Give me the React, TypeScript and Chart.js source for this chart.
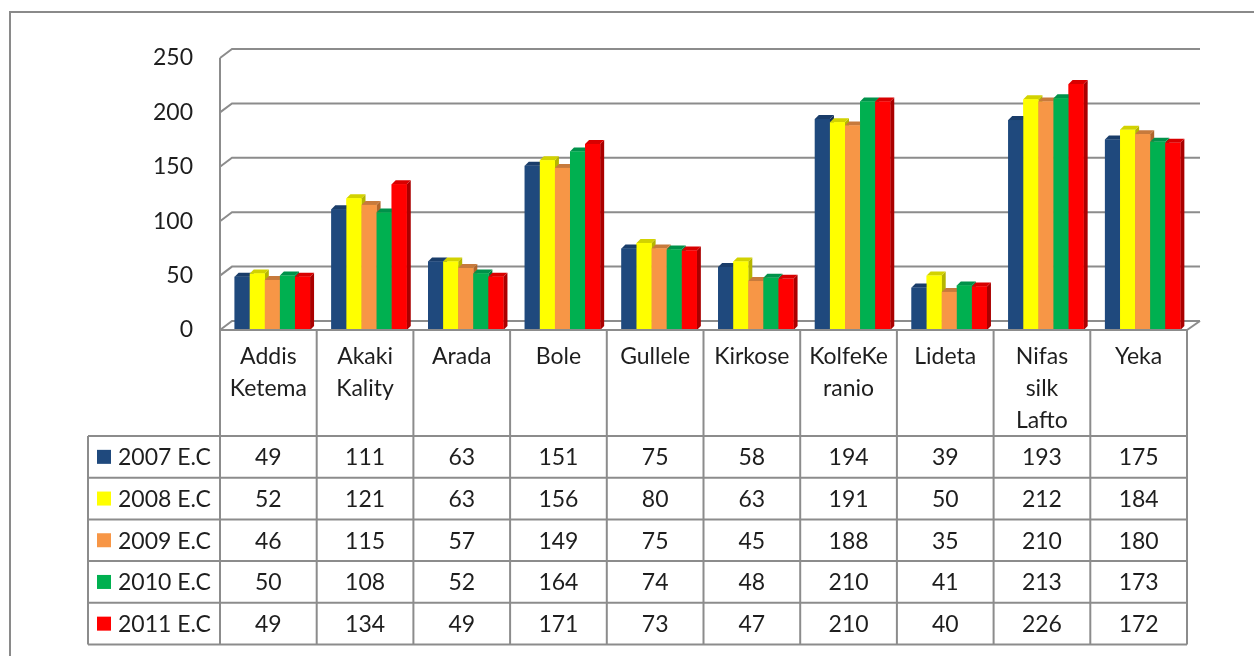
import React, { useEffect, useRef } from "react";
import { Chart, registerables } from "chart.js";

Chart.register(...registerables);

// ---- data ----
const categories: string[][] = [
  ["Addis", "Ketema"],
  ["Akaki", "Kality"],
  ["Arada"],
  ["Bole"],
  ["Gullele"],
  ["Kirkose"],
  ["KolfeKe", "ranio"],
  ["Lideta"],
  ["Nifas", "silk", "Lafto"],
  ["Yeka"],
];
const seriesNames = ["2007 E.C", "2008 E.C", "2009 E.C", "2010 E.C", "2011 E.C"];
const v2007 = [49, 111, 63, 151, 75, 58, 194, 39, 193, 175];
const v2008 = [52, 121, 63, 156, 80, 63, 191, 50, 212, 184];
const v2009 = [46, 115, 57, 149, 75, 45, 188, 35, 210, 180];
const v2010 = [50, 108, 52, 164, 74, 48, 210, 41, 213, 173];
const v2011 = [49, 134, 49, 171, 73, 47, 210, 40, 226, 172];
const yTicks = [0, 50, 100, 150, 200, 250];

// ---- styles ----
const frontColors = ["#1F497D", "#FFFF00", "#F79646", "#00B050", "#FF0000"];
const topColors = ["#1A3D6A", "#D2D200", "#C77A3C", "#00924A", "#D80000"];
const sideColors = ["#142E52", "#B5B500", "#B0652B", "#007A3A", "#AA0000"];
const LINE = "#8C8C8C";
const TEXT = "#1E1E1E";
const FONT = "Lato";
const FONT_SIZE = 23;

const W = 1254;
const H = 656;

const allSeries = [v2007, v2008, v2009, v2010, v2011];

// geometry for 3D look / table
const WALL_DX = 12;
const WALL_DY = 9;
const BAR_D = 4;
const BAR_SHIFT = 4;
const HEADER_H = 106;
const ROW_H = 41.7;
const LEGEND_LEFT = 88;

const wallPlugin = {
  id: "wall3d",
  beforeDatasetsDraw(chart: any) {
    const { ctx, chartArea, scales } = chart;
    const { left, right } = chartArea;
    const y = scales.y;
    ctx.save();
    ctx.strokeStyle = LINE;
    ctx.lineWidth = 2;
    for (const v of yTicks) {
      const yf = y.getPixelForValue(v);
      ctx.beginPath();
      ctx.moveTo(left, yf);
      ctx.lineTo(left + WALL_DX, yf - WALL_DY);
      ctx.lineTo(right + WALL_DX + 1, yf - WALL_DY);
      ctx.stroke();
    }
    const y0 = y.getPixelForValue(0);
    ctx.beginPath();
    ctx.moveTo(right, y0);
    ctx.lineTo(right + WALL_DX + 1, y0 - WALL_DY);
    ctx.stroke();
    ctx.restore();
  },
};

const bars3dPlugin = {
  id: "bars3d",
  beforeDatasetsDraw(chart: any) {
    chart.ctx.save();
    chart.ctx.translate(BAR_SHIFT, 0);
  },
  afterDatasetsDraw(chart: any) {
    const { ctx } = chart;
    const n = categories.length;
    for (let i = 0; i < n; i++) {
      for (let j = 0; j < allSeries.length; j++) {
        const el = chart.getDatasetMeta(j).data[i];
        if (!el) continue;
        const p = el.getProps(["x", "y", "base", "width"], true);
        const xl = p.x - p.width / 2;
        const xr = p.x + p.width / 2;
        const yt = p.y;
        const yb = p.base;
        // side
        ctx.fillStyle = sideColors[j];
        ctx.beginPath();
        ctx.moveTo(xr, yt);
        ctx.lineTo(xr + BAR_D, yt - BAR_D);
        ctx.lineTo(xr + BAR_D, yb - BAR_D);
        ctx.lineTo(xr, yb);
        ctx.closePath();
        ctx.fill();
        // top
        ctx.fillStyle = topColors[j];
        ctx.beginPath();
        ctx.moveTo(xl, yt);
        ctx.lineTo(xl + BAR_D, yt - BAR_D);
        ctx.lineTo(xr + BAR_D, yt - BAR_D);
        ctx.lineTo(xr, yt);
        ctx.closePath();
        ctx.fill();
        // front
        ctx.fillStyle = frontColors[j];
        ctx.fillRect(xl, yt, xr - xl, yb - yt);
      }
    }
    ctx.restore();
  },
};

const tablePlugin = {
  id: "dataTable",
  afterDraw(chart: any) {
    const { ctx, chartArea, scales } = chart;
    const { left, right } = chartArea;
    const y = scales.y;
    const x = scales.x;
    const n = categories.length;
    const colW = (right - left) / n;
    const top = y.getPixelForValue(0);
    const headerBottom = top + HEADER_H;
    const rows = seriesNames.length;
    const bottom = headerBottom + rows * ROW_H;

    ctx.save();
    // outer frame (top and left edges visible)
    ctx.strokeStyle = "#8A8A8A";
    ctx.lineWidth = 2;
    ctx.beginPath();
    ctx.moveTo(10, H);
    ctx.lineTo(10, 12);
    ctx.lineTo(W, 12);
    ctx.stroke();

    ctx.strokeStyle = LINE;
    ctx.lineWidth = 2;
    // header top (front floor edge)
    ctx.beginPath();
    ctx.moveTo(left, top);
    ctx.lineTo(right, top);
    ctx.stroke();
    // left wall front edge
    ctx.beginPath();
    ctx.moveTo(left, y.getPixelForValue(yTicks[yTicks.length - 1]));
    ctx.lineTo(left, top);
    ctx.stroke();
    // vertical column lines
    for (let i = 0; i <= n; i++) {
      const cx = left + i * colW;
      ctx.beginPath();
      ctx.moveTo(cx, top);
      ctx.lineTo(cx, bottom);
      ctx.stroke();
    }
    // legend column left border
    ctx.beginPath();
    ctx.moveTo(LEGEND_LEFT, headerBottom);
    ctx.lineTo(LEGEND_LEFT, bottom);
    ctx.stroke();
    // row lines
    for (let r = 0; r <= rows; r++) {
      const ry = headerBottom + r * ROW_H;
      ctx.beginPath();
      ctx.moveTo(LEGEND_LEFT, ry);
      ctx.lineTo(right, ry);
      ctx.stroke();
    }

    // row contents
    ctx.font = `${FONT_SIZE}px ${FONT}`;
    ctx.textBaseline = "middle";
    for (let r = 0; r < rows; r++) {
      const cy = headerBottom + r * ROW_H + ROW_H / 2;
      // legend key
      ctx.fillStyle = frontColors[r];
      ctx.fillRect(LEGEND_LEFT + 9, cy - 7, 14, 14);
      ctx.fillStyle = TEXT;
      ctx.textAlign = "left";
      ctx.fillText(seriesNames[r], LEGEND_LEFT + 30, cy + 1);
      ctx.textAlign = "center";
      const vals = allSeries[r];
      for (let i = 0; i < n; i++) {
        ctx.fillText(String(vals[i]), x.getPixelForValue(i), cy + 1);
      }
    }
    ctx.restore();
  },
};

export default function App() {
  const ref = useRef<HTMLCanvasElement | null>(null);

  useEffect(() => {
    if (!ref.current) return;
    const chart = new Chart(ref.current, {
      type: "bar",
      data: {
        labels: categories as any,
        datasets: seriesNames.map((name, j) => ({
          label: name,
          data: allSeries[j],
          backgroundColor: frontColors[j],
          borderWidth: 0,
          barPercentage: 1.0,
          categoryPercentage: 0.78,
        })),
      },
      options: {
        responsive: false,
        animation: false,
        devicePixelRatio: 1,
        layout: { padding: { left: 120, right: 67, top: 58, bottom: 0 } },
        plugins: {
          legend: { display: false },
          tooltip: { enabled: false },
          title: { display: false },
        },
        scales: {
          x: {
            grid: { display: false, drawTicks: false },
            border: { display: false },
            afterFit: (s: any) => {
              s.height = H - 330;
            },
            ticks: {
              autoSkip: false,
              maxRotation: 0,
              padding: 11,
              color: TEXT,
              font: { family: FONT, size: FONT_SIZE, lineHeight: "32px" } as any,
            },
          },
          y: {
            min: 0,
            max: 250,
            grid: { display: false, drawTicks: false },
            border: { display: false },
            afterFit: (s: any) => {
              s.width = 100;
            },
            afterBuildTicks: (s: any) => {
              s.ticks = yTicks.map((v) => ({ value: v }));
            },
            ticks: {
              padding: 27,
              color: TEXT,
              font: { family: FONT, size: FONT_SIZE },
            },
          },
        },
      },
      plugins: [wallPlugin, bars3dPlugin, tablePlugin],
    });
    return () => chart.destroy();
  }, []);

  return (
    <div
      style={{
        position: "fixed",
        left: 0,
        top: 0,
        width: W,
        height: H,
        background: "#ffffff",
      }}
    >
      <canvas ref={ref} width={W} height={H} style={{ display: "block" }} />
    </div>
  );
}
